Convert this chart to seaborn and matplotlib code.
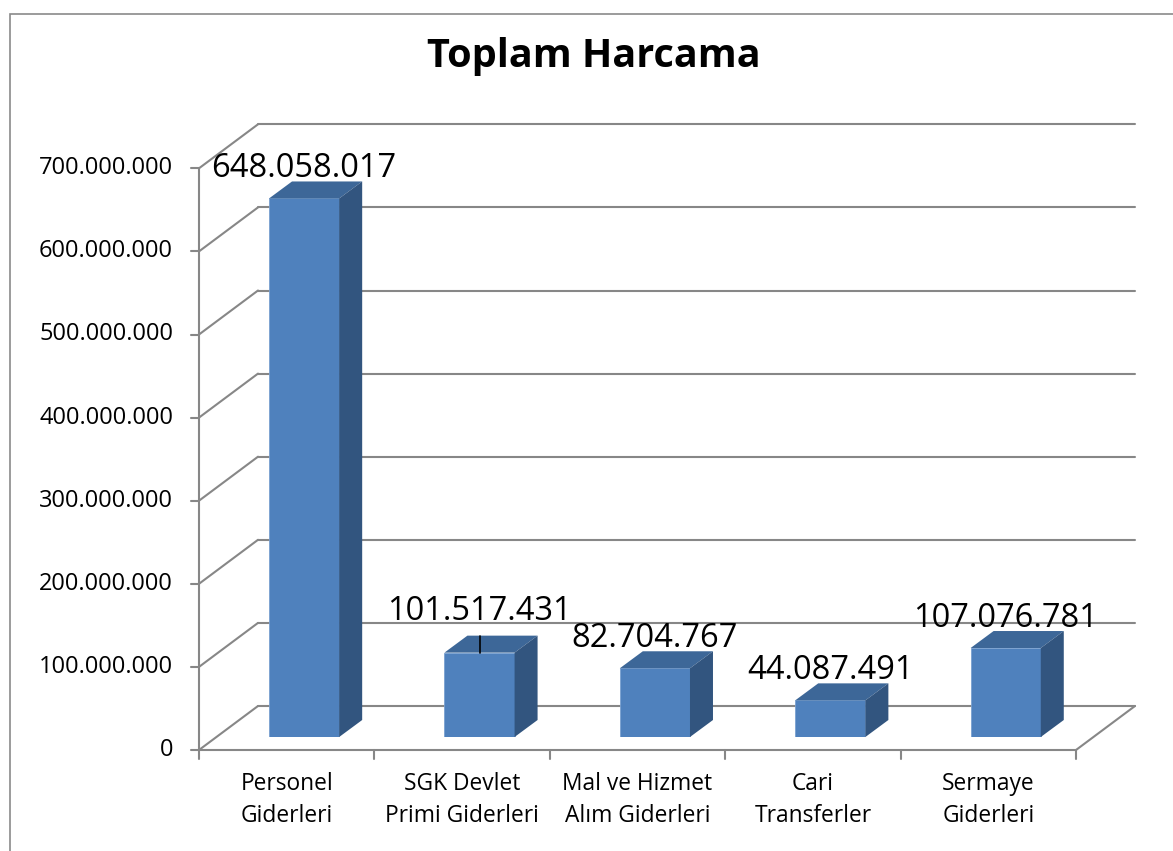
import matplotlib
matplotlib.use("Agg")
import matplotlib.pyplot as plt
import matplotlib.transforms as mtransforms
from matplotlib.patches import Polygon, Rectangle
from matplotlib.lines import Line2D
import pandas as pd
import seaborn as sns

# data
categories = ["Personel\nGiderleri", "SGK Devlet\nPrimi Giderleri", "Mal ve Hizmet\nAlım Giderleri",
              "Cari\nTransferler", "Sermaye\nGiderleri"]
values = [648058017, 101517431, 82704767, 44087491, 107076781]
y_ticks = [0, 100000000, 200000000, 300000000, 400000000, 500000000, 600000000, 700000000]
title = "Toplam Harcama"


def tr_fmt(v):
    return f"{int(v):,}".replace(",", ".")


sns.set_theme(style="white")
plt.rcParams["font.family"] = ["Open Sans", "DejaVu Sans"]

W, H = 1173, 851
FRONT = (-17.4, -13)   # front plane of the fake 3d box, in pixels from the bar plane
BACK = (41.6, 31)      # back wall
DEPTH = (23, 17)       # depth of each bar
grid_col = "#878787"
front_col = "#4F81BD"
top_col = "#3D6798"
side_col = "#32557F"

fig = plt.figure(figsize=(W / 100, H / 100), dpi=100)
ax = fig.add_axes([216.4 / W, (H - 737) / H, 877 / W, 581.7 / H])

df = pd.DataFrame({"Kalem": categories, "Tutar": values})
sns.barplot(data=df, x="Kalem", y="Tutar", color=front_col, saturation=1, width=0.4,
            edgecolor="#79a0d0", linewidth=0.6, ax=ax, zorder=3)
ax.set_xlim(-0.5, len(categories) - 0.5)
ax.set_ylim(y_ticks[0], y_ticks[-1])
ax.axis("off")

ident = mtransforms.IdentityTransform()
x_lo, x_hi = -0.5, len(categories) - 0.5


def px(x, y, off=(0, 0)):
    p = ax.transData.transform((x, y))
    return p[0] + off[0], p[1] + off[1]


def seg(p, q, **kw):
    ax.add_line(Line2D([p[0], q[0]], [p[1], q[1]], transform=ident, clip_on=False, **kw))


# back wall gridlines and left wall
for v in y_ticks:
    seg(px(x_lo, v, BACK), px(x_hi, v, BACK), color=grid_col, lw=1.5, zorder=1)
    seg(px(x_lo, v, FRONT), px(x_lo, v, BACK), color=grid_col, lw=1.5, zorder=1)
# floor right edge
seg(px(x_hi, 0, FRONT), px(x_hi, 0, BACK), color=grid_col, lw=1.5, zorder=1)

# front value axis
seg(px(x_lo, y_ticks[0], FRONT), px(x_lo, y_ticks[-1], FRONT), color=grid_col, lw=1.5, zorder=2)
for v in y_ticks:
    p = px(x_lo, v, FRONT)
    seg((p[0] - 8, p[1]), p, color=grid_col, lw=1.5, zorder=2)
    ax.text(p[0] - 26, p[1], tr_fmt(v), transform=ident, ha="right", va="center",
            fontsize=17, color="black")

# front category axis
seg(px(x_lo, 0, FRONT), px(x_hi, 0, FRONT), color=grid_col, lw=1.5, zorder=2)
for i in range(len(categories) + 1):
    p = px(i - 0.5, 0, FRONT)
    seg(p, (p[0], p[1] - 9), color=grid_col, lw=1.5, zorder=2)
for i, name in enumerate(categories):
    p = px(i, 0, FRONT)
    ax.text(p[0], p[1] - 22, name, transform=ident, ha="center", va="top",
            fontsize=16.4, linespacing=1.45, color="black")

# 3d faces of the bars and value labels
lifted = {"SGK Devlet\nPrimi Giderleri"}
for name, patch in zip(categories, ax.patches):
    x0, w, h = patch.get_x(), patch.get_width(), patch.get_height()
    top = [px(x0, h), px(x0 + w, h), px(x0 + w, h, DEPTH), px(x0, h, DEPTH)]
    side = [px(x0 + w, 0), px(x0 + w, h), px(x0 + w, h, DEPTH), px(x0 + w, 0, DEPTH)]
    ax.add_patch(Polygon(top, closed=True, transform=ident, facecolor=top_col,
                         edgecolor="none", zorder=3, clip_on=False))
    ax.add_patch(Polygon(side, closed=True, transform=ident, facecolor=side_col,
                         edgecolor="none", zorder=3, clip_on=False))
    cx, cy = px(x0 + w / 2, h)
    lift = 4
    if name in lifted:
        lift = 16
        seg((cx, cy), (cx, cy + DEPTH[1]), color="black", lw=1.2, zorder=4)
    ax.text(cx, cy + DEPTH[1] + lift, tr_fmt(h), transform=ident, ha="center",
            va="baseline", fontsize=23.5, color="black", zorder=5)

fig.text(594 / W, 1 - 57 / H, title, ha="center", va="center", fontsize=28.5,
         fontweight="bold", color="black")

# chart frame
fig.add_artist(Rectangle((10 / W, -0.1), 1.2, 1.1 - 14 / H, transform=fig.transFigure,
                         fill=False, edgecolor="#8a8a8a", lw=1.2))

fig.savefig("out.png", dpi=100)
